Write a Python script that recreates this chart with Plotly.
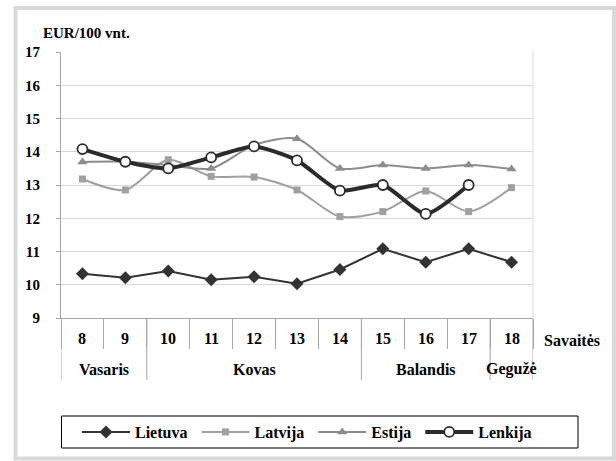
import plotly.graph_objects as go

weeks = ["8", "9", "10", "11", "12", "13", "14", "15", "16", "17", "18"]
months = ["Vasaris", "Kovas", "Balandis", "Gegužė"]
month_spans = [(0, 1), (2, 6), (7, 9), (10, 10)]  # first/last week index of each month

lietuva = [10.33, 10.21, 10.41, 10.15, 10.24, 10.03, 10.46, 11.08, 10.68, 11.08, 10.68]
latvija = [13.18, 12.85, 13.76, 13.26, 13.24, 12.85, 12.05, 12.20, 12.82, 12.20, 12.92]
estija = [13.69, 13.70, 13.60, 13.50, 14.20, 14.39, 13.50, 13.60, 13.50, 13.60, 13.48]
lenkija = [14.08, 13.70, 13.50, 13.83, 14.16, 13.74, 12.83, 13.00, 12.13, 13.00, None]

FONT = "Liberation Serif"
PAD = "\u00a0"  # a little extra room between legend entries

# pixel geometry of the plot area (inside a 616x461 page)
FW, FH = 616, 461
L, R, T, B = 61, 533, 52, 318
W, H = R - L, B - T


def px(x):
    return (x - L) / W


def py(y):
    return (B - y) / H


def lbl(size):
    return dict(size=size, color="black", family=FONT, weight="bold")


fig = go.Figure()

fig.add_trace(go.Scatter(x=weeks, y=lietuva, name="Lietuva" + PAD, mode="lines+markers",
                         line=dict(color="#333333", width=2),
                         marker=dict(symbol="diamond", size=10, color="#333333")))
fig.add_trace(go.Scatter(x=weeks, y=latvija, name="Latvija" + PAD, mode="lines+markers",
                         line=dict(color="#a0a0a0", width=2, shape="spline", smoothing=0.8),
                         marker=dict(symbol="square", size=7, color="#a0a0a0")))
fig.add_trace(go.Scatter(x=weeks, y=estija, name="Estija" + PAD, mode="lines+markers",
                         line=dict(color="#8c8c8c", width=2, shape="spline", smoothing=0.8),
                         marker=dict(symbol="triangle-up", size=9, color="#8c8c8c")))
fig.add_trace(go.Scatter(x=weeks, y=lenkija, name="Lenkija", mode="lines+markers",
                         line=dict(color="#2b2b2b", width=4, shape="spline", smoothing=0.6),
                         marker=dict(symbol="circle", size=10, color="white",
                                     line=dict(color="#2b2b2b", width=1.8))))

shapes = []
# outer frame
shapes.append(dict(type="rect", xref="paper", yref="paper",
                   x0=px(15.5), x1=px(614), y0=py(458.5), y1=py(8),
                   line=dict(color="#d9d9d9", width=4), layer="below"))
# legend box
shapes.append(dict(type="rect", xref="paper", yref="paper",
                   x0=px(61.5), x1=px(578), y0=py(448), y1=py(416),
                   line=dict(color="black", width=1)))
# right border of plot area
shapes.append(dict(type="line", xref="paper", yref="paper", x0=1, x1=1, y0=0, y1=1,
                   line=dict(color="#d9d9d9", width=1)))
# month dividers
bounds = sorted({s - 0.5 for s, e in month_spans} | {e + 0.5 for s, e in month_spans})
for b in bounds:
    shapes.append(dict(type="line", xref="x", yref="paper", x0=b, x1=b,
                       y0=0, y1=py(380), line=dict(color="#a6a6a6", width=1)))

annotations = []
for i, w in enumerate(weeks):
    annotations.append(dict(x=i, y=py(338), xref="x", yref="paper", text=w,
                            yanchor="middle", showarrow=False, font=lbl(16)))
for m, (s, e) in zip(months, month_spans):
    annotations.append(dict(x=(s + e) / 2, y=py(369), xref="x", yref="paper", text=m,
                            yanchor="middle", showarrow=False, font=lbl(16)))
annotations.append(dict(x=px(542), y=py(340), xref="paper", yref="paper", text="Savaitės",
                        xanchor="left", yanchor="middle", showarrow=False, font=lbl(16)))
annotations.append(dict(x=px(41), y=py(33), xref="paper", yref="paper", text="EUR/100 vnt.",
                        xanchor="left", yanchor="middle", showarrow=False, font=lbl(15)))

fig.update_layout(
    width=FW, height=FH,
    margin=dict(l=L, r=FW - R, t=T, b=FH - B, autoexpand=False),
    paper_bgcolor="white", plot_bgcolor="white",
    font=dict(family=FONT, size=15, color="black", weight="bold"),
    showlegend=True,
    legend=dict(orientation="h", x=px(77), xanchor="left", y=py(415), yanchor="top",
                borderwidth=0, bgcolor="rgba(0,0,0,0)", font=lbl(16),
                itemwidth=48, tracegroupgap=0),
    shapes=shapes, annotations=annotations,
    xaxis=dict(type="category", range=[-0.5, 10.5], showticklabels=False,
               showline=True, linecolor="#a6a6a6", linewidth=1, showgrid=False,
               ticks="outside", tickson="boundaries", ticklen=30, tickcolor="#a6a6a6"),
    yaxis=dict(range=[9, 17], dtick=1, showgrid=True, gridcolor="#d9d9d9",
               showline=True, linecolor="#a6a6a6", ticks="outside", ticklen=4,
               tickcolor="#a6a6a6", zeroline=False,
               tickfont=lbl(15), ticklabelstandoff=13),
)

fig.write_html("out.html", config={"displayModeBar": False},
               post_script="document.body.style.margin='0';")
